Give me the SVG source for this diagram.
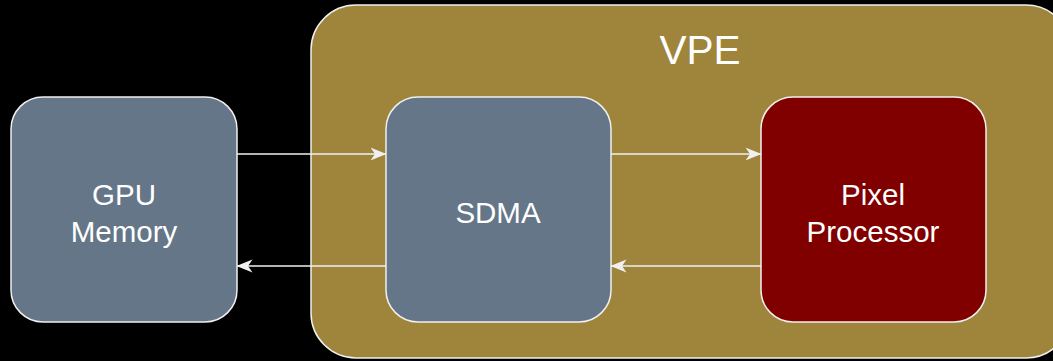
<svg xmlns="http://www.w3.org/2000/svg" width="1053" height="361" viewBox="0 0 1053 361">
  <defs>
    <style>
      .box { stroke: #f0f0f0; stroke-width: 1.5; }
      .slate { fill: #647687; }
      .maroon { fill: #800000; }
      .group { fill: #9f843c; stroke: #f0f0f0; stroke-width: 1.5; }
      .label { font-family: "Liberation Sans", Arial, sans-serif; font-size: 29.5px; fill: #ffffff; text-anchor: middle; }
      .title { font-family: "Liberation Sans", Arial, sans-serif; font-size: 40.5px; fill: #ffffff; text-anchor: middle; }
      .link { stroke: #f0f0f0; stroke-width: 1.5; fill: none; marker-end: url(#arrow); }
    </style>
    <marker id="arrow" viewBox="0 0 16 14" refX="15.5" refY="7" markerWidth="16" markerHeight="14" markerUnits="userSpaceOnUse" orient="auto">
      <path d="M0,0.5 L16,7 L0,13.5 L4.5,7 Z" fill="#f0f0f0"/>
    </marker>
  </defs>
  <rect width="1053" height="361" fill="#000000"/>

  <g id="vpe">
    <rect class="group" x="311" y="5" width="760" height="353" rx="45" ry="45"/>
    <text class="title" x="700" y="64">VPE</text>
  </g>

  <g id="gpu-memory">
    <rect class="box slate" x="11" y="97" width="226" height="225" rx="32" ry="32"/>
    <text class="label" x="124" y="205">GPU</text>
    <text class="label" x="124" y="242">Memory</text>
  </g>

  <g id="sdma">
    <rect class="box slate" x="386" y="97" width="225" height="225" rx="32" ry="32"/>
    <text class="label" x="498" y="223">SDMA</text>
  </g>

  <g id="pixel-processor">
    <rect class="box maroon" x="761" y="97" width="225" height="225" rx="32" ry="32"/>
    <text class="label" x="873" y="205">Pixel</text>
    <text class="label" x="873" y="242">Processor</text>
  </g>

  <g id="connectors">
    <line class="link" x1="237" y1="154" x2="386" y2="154"/>
    <line class="link" x1="386" y1="266" x2="237" y2="266"/>
    <line class="link" x1="611" y1="154" x2="761" y2="154"/>
    <line class="link" x1="761" y1="266" x2="611" y2="266"/>
  </g>
</svg>
